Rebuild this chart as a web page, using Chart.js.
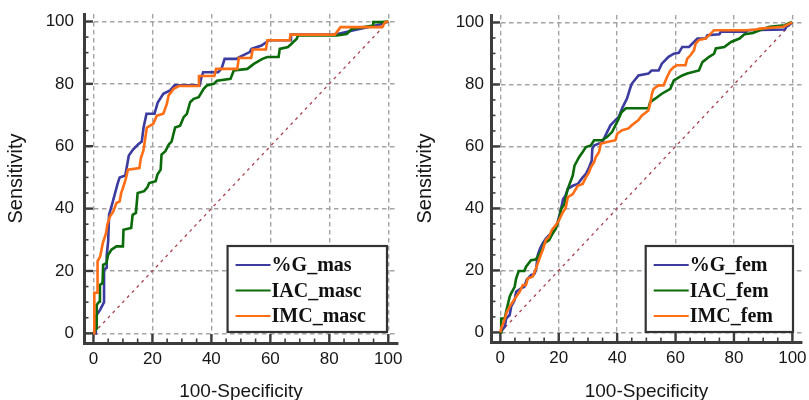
<!DOCTYPE html>
<html><head><meta charset="utf-8">
<script src="https://cdn.jsdelivr.net/npm/chart.js@4.4.1/dist/chart.umd.min.js"></script>
<style>
html,body{margin:0;padding:0;background:#fff;width:809px;height:400px;overflow:hidden}
.c{position:absolute;top:0;height:400px}
#w1{left:0;width:404px}
#w2{left:404px;width:405px}
</style></head><body>
<div class="c" id="w1"><canvas id="c1" width="404" height="400"></canvas></div>
<div class="c" id="w2"><canvas id="c2" width="405" height="400"></canvas></div>
<script>
// ---- data ----
const tickValues = [0, 20, 40, 60, 80, 100];
const xTitle = '100-Specificity';
const yTitle = 'Sensitivity';
const masLabels = ['%G_mas', 'IAC_masc', 'IMC_masc'];
const femLabels = ['%G_fem', 'IAC_fem', 'IMC_fem'];
const refLine = [[0, 0], [100, 100]];

const gMas = [[0,0],[0.8,0],[0.8,5.5],[2.3,7.6],[3.6,10],[3.6,20.4],[4.5,21],[4.5,25],[5,29.5],[5.3,38],[6.5,42],[8.2,48],[8.9,50],[10.8,50.6],[12,57],[13.5,59],[15.3,60.7],[16.4,61.5],[17,66],[18,70.4],[20.7,70.4],[21.8,74],[23.7,76.8],[26,77.9],[27.5,79.5],[36,79.5],[36.6,82],[37.2,83.7],[42.3,83.7],[43.5,85],[44.5,88],[48.5,88],[49.5,88.6],[53,90.2],[53.6,91.2],[57,92.3],[59.6,94],[66.8,94],[67,95.8],[82,95.8],[85,96.5],[88.7,97.3],[97.2,99],[100,100]];
const iacMasc = [[0,0],[0.9,1.6],[1.1,9.1],[2,10.2],[2.2,15.5],[3.1,16.1],[3.3,22],[4.4,22.5],[5,25.2],[6.1,26.8],[7.8,27.9],[10,27.9],[10.2,33.2],[12.8,33.8],[13.3,38],[14.4,38.6],[15,45],[17.2,45.6],[18.3,46.8],[18.9,48.2],[21.1,48.8],[21.7,50.9],[22.8,52.5],[23.1,57.3],[24.4,58.4],[25.6,60.6],[26.5,61.5],[27.7,66],[29.4,66.6],[30.6,69.3],[31.7,70.4],[32.8,74.1],[34,75.2],[35.7,75.7],[37.4,78.4],[38.5,79.5],[40.8,80],[41.9,81],[46.5,81.6],[47.6,84.3],[52.2,84.8],[54.4,86.4],[57.3,88],[59,88.6],[62.8,88.6],[63.2,91.2],[66,91.8],[68.9,94.4],[69.4,95.5],[82.5,95.5],[85.9,96],[87.6,97.6],[94.9,98.7],[94.9,99.8],[97.8,99.8],[100,100]];
const imcMasc = [[0,0],[0.3,0],[0.3,13],[1.4,13],[1.4,23.1],[2.3,24.7],[3.2,29],[4.3,32.2],[4.7,34.8],[5.6,37.5],[6.7,39],[7.8,41.8],[8.9,42.3],[9.4,45],[10,46.6],[10.9,49.3],[11.7,52.5],[15.6,53],[16.1,56.3],[16.9,58.4],[17.5,62],[18.1,66],[20.3,67.2],[21.5,69.8],[23.7,70.4],[24.9,73.6],[25.5,76.3],[27.2,78.4],[28.9,79.3],[35.5,79.3],[35.8,82.5],[41,82.5],[41.6,84.8],[48.8,84.8],[49.3,88.3],[53.5,88.3],[54,91],[58.5,91],[59,94],[66.6,94],[66.8,95.8],[81.9,95.8],[83.8,98.2],[97.8,98.2],[99,99.8],[100,100]];

const gFem = [[0,0],[1.5,1.8],[2,4.5],[3.2,5.6],[3.7,8.3],[4.9,10.4],[5.4,13.1],[7.1,14.2],[8.2,14.7],[9,16.9],[10.5,18.5],[11.6,18.8],[12.2,20.1],[12.8,24.9],[13.6,27.1],[14.5,28.7],[15.6,30.3],[17.3,31.9],[18.4,33.5],[19.5,35.2],[20.7,39.5],[21.5,43],[22.3,44.1],[23.1,46.3],[24.8,47.3],[26.5,47.9],[28.2,50],[29.3,51.1],[30.4,53.3],[31.3,55.5],[31.5,59.3],[32.1,60.3],[34.9,61.4],[36.6,64.7],[37.7,66.8],[39.4,68.5],[40.6,69.6],[41.7,72.3],[43.4,75.5],[44.4,78.6],[45,80.2],[47.3,82.9],[50.7,83.5],[51.8,84.5],[54.2,84.5],[55.3,86.7],[57.6,88.9],[59.4,89.9],[61.1,90.2],[62.3,92.1],[64.6,92.1],[66.3,93.7],[67.5,94.8],[70.3,94.8],[70.9,95.9],[75,96.2],[75.5,97],[84.2,97],[84.8,97.5],[97.4,97.7],[98,98.6],[100,100]];
const iacFem = [[0,0],[0.3,0],[0.3,4.5],[1.5,4.5],[2,6.7],[3.2,11.5],[3.7,12.6],[4.9,14.7],[5.4,17.4],[6.3,19.8],[8.2,19.8],[8.8,21.2],[10.5,23.3],[12,23.5],[12.8,24.4],[14.5,27.1],[15,28.7],[16.7,29.8],[17.9,31.9],[19,33.5],[20.3,37.1],[20.8,39.8],[22,41.4],[22.5,44.1],[23.1,46.3],[24.8,50.6],[25.4,53.8],[27,56.6],[28.2,58.2],[29.3,59.8],[31,60.3],[32.1,62],[34.9,62],[36.6,63.1],[38.3,64.7],[40.3,68.5],[41.5,71],[43,72.3],[50.7,72.3],[51.3,74.3],[53,75.4],[55.3,77],[58.2,78.6],[59.4,81.3],[62.3,82.9],[64,83.5],[68,84.5],[69.2,87.2],[71.5,88.9],[73.2,89.9],[73.8,91.6],[76.7,92.1],[79,93.7],[81.9,94.8],[83.6,96.2],[86.5,96.6],[88.8,97.5],[92.2,98.6],[97.4,99.1],[99.2,99.9],[100,100]];
const imcFem = [[0,0],[0.3,1.3],[1.2,3.4],[2.3,6.7],[3.2,8.3],[4.3,9.9],[5.4,11.5],[6.6,13.1],[7.7,15.3],[8.8,15.3],[9.4,17.4],[11.1,18],[12.2,20.6],[13.6,24.4],[14.5,26.6],[15.6,29.8],[16.7,30.9],[17.6,33],[19,34.6],[20.1,36.2],[21.2,38.4],[22.4,40.2],[23.1,43.6],[24.8,44.6],[26.5,47.3],[28.2,47.9],[29.3,50],[30.4,51.7],[31,53.3],[32.1,54.9],[32.7,56.6],[33.8,58.2],[34.4,60.9],[36.6,61.4],[39.4,62],[40,64.1],[41.7,65.2],[43.9,65.8],[45,66.8],[47.3,68.5],[48.4,69.9],[50.7,71.6],[51.3,73.7],[51.9,77],[52.5,78.6],[54.2,79.7],[55.9,79.7],[57.1,82.4],[58.2,84.5],[59.4,85.6],[60.5,86.2],[63.4,86.2],[64,88.3],[65.1,89.4],[66.3,91],[66.9,93.2],[68,94.3],[70.3,94.8],[71.5,95.9],[73.2,97.5],[84.2,97.5],[87.6,97.7],[88.8,98],[96.9,98.6],[99.2,99.7],[100,100]];

// ---- styles ----
const COLORS = ['#3b3ba0', '#0b6b0b', '#ff6d14'];
const toPts = a => a.map(p => ({x: p[0], y: p[1]}));

const tickMarks = {
  id: 'tickMarks',
  beforeDatasetsDraw(chart) {
    const ctx = chart.ctx, a = chart.chartArea, xs = chart.scales.x, ys = chart.scales.y;
    ctx.save();
    ctx.strokeStyle = '#3c3c3c';
    for (let v = 0; v <= 100; v += 5) {
      const major = tickValues.includes(v);
      const len = major ? 9 : 4.5;
      ctx.lineWidth = major ? 2.4 : 1.6;
      const px = xs.getPixelForValue(v);
      ctx.beginPath(); ctx.moveTo(px, a.bottom); ctx.lineTo(px, a.bottom - len); ctx.stroke();
      const py = ys.getPixelForValue(v);
      ctx.beginPath(); ctx.moveTo(a.left, py); ctx.lineTo(a.left + len, py); ctx.stroke();
    }
    ctx.restore();
  }
};

const boxLegend = {
  id: 'boxLegend',
  afterDatasetsDraw(chart, args, opts) {
    const ctx = chart.ctx, a = chart.chartArea;
    const items = chart.data.datasets.filter(d => !d.isRef);
    ctx.save();
    ctx.font = 'bold 20px "Liberation Serif", "Times New Roman", serif';
    let maxW = 0;
    items.forEach(d => { maxW = Math.max(maxW, ctx.measureText(d.label).width); });
    const w = 44 + maxW + opts.padRight, h = 86;
    const x0 = a.right - opts.right - w, y0 = a.bottom - opts.bottom - h;
    ctx.fillStyle = '#fff';
    ctx.fillRect(x0, y0, w, h);
    ctx.lineWidth = 2.2; ctx.strokeStyle = '#333';
    ctx.strokeRect(x0, y0, w, h);
    items.forEach((d, i) => {
      const y = y0 + 19 + i * 25.5;
      ctx.strokeStyle = d.borderColor; ctx.lineWidth = 2.2;
      ctx.beginPath(); ctx.moveTo(x0 + 8, y); ctx.lineTo(x0 + 43, y); ctx.stroke();
      ctx.fillStyle = '#111'; ctx.textBaseline = 'middle'; ctx.textAlign = 'left';
      ctx.fillText(d.label, x0 + 44, y + 1);
    });
    ctx.restore();
  }
};

function makeChart(id, labels, series, o) {
  const ds = series.map((s, i) => ({
    label: labels[i], data: toPts(s), borderColor: COLORS[i], borderWidth: 2.6,
    pointRadius: 0, showLine: true, tension: 0, fill: false, order: 3 - i
  }));
  ds.push({label: 'ref', isRef: true, data: toPts(refLine), borderColor: '#a8414f', borderWidth: 1.3,
    borderDash: [3, 4], pointRadius: 0, showLine: true, order: 10});
  const tickFont = {family: '"Liberation Sans", Arial, sans-serif', size: 17};
  const xTitleFont = {family: '"Liberation Sans", Arial, sans-serif', size: 19, lineHeight: 0.85};
  const yTitleFont = {family: '"Liberation Sans", Arial, sans-serif', size: 20, lineHeight: 1};
  const common = (axis) => ({
    type: 'linear', min: axis === 'x' ? -3.2 : -3.1, max: axis === 'x' ? 103.3 : 102.4,
    afterBuildTicks: s => { s.ticks = tickValues.map(v => ({value: v})); },
    grid: {color: '#a4a4a4', lineWidth: 1.4, drawTicks: false},
    border: {display: true, color: '#3c3c3c', width: 3, dash: [4.5, 3.5]},
  });
  return new Chart(document.getElementById(id), {
    type: 'scatter',
    data: {datasets: ds},
    options: {
      responsive: false, animation: false, devicePixelRatio: 1,
      layout: {padding: {left: 0, top: o.top, right: o.right, bottom: 0}},
      plugins: {legend: {display: false}, tooltip: {enabled: false}, boxLegend: o.legend},
      scales: {
        x: Object.assign(common('x'), {
          position: 'bottom',
          ticks: {font: tickFont, color: '#161616', padding: 6, autoSkip: false, maxRotation: 0},
          title: {display: true, text: xTitle, font: xTitleFont, color: '#161616', padding: {top: 0, bottom: 0}},
          afterFit: s => { s.height = o.xh; s.paddingLeft = s.paddingRight = s.paddingTop = s.paddingBottom = 0; }
        }),
        y: Object.assign(common('y'), {
          position: 'left',
          ticks: {font: tickFont, color: '#161616', padding: o.yTickPad, autoSkip: false},
          title: {display: true, text: yTitle, font: yTitleFont, color: '#161616', padding: {top: o.yTitlePad, bottom: 0}},
          afterFit: s => { s.width = o.yw; s.paddingLeft = s.paddingRight = s.paddingTop = s.paddingBottom = 0; }
        })
      }
    },
    plugins: [tickMarks, boxLegend]
  });
}

makeChart('c1', masLabels, [gMas, iacMasc, imcMasc],
  {top: 14, right: 6, xh: 57, yw: 84, yTickPad: 10, yTitlePad: 6,
   legend: {right: 11, bottom: 11, padRight: 21}});
makeChart('c2', femLabels, [gFem, iacFem, imcFem],
  {top: 15, right: 7, xh: 58, yw: 87, yTickPad: 7, yTitlePad: 11,
   legend: {right: 9, bottom: 10, padRight: 20}});
</script>
</body></html>
